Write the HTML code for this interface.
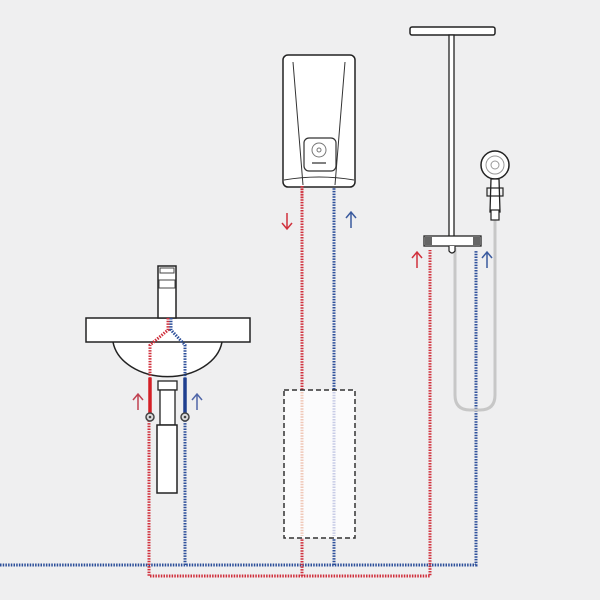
<!DOCTYPE html>
<html><head><style>body{margin:0;background:#efeff0}svg{display:block}</style></head><body>
<svg width="600" height="600" viewBox="0 0 600 600" xmlns="http://www.w3.org/2000/svg">
<rect width="600" height="600" fill="#efeff0"/>
<g fill="none" stroke-width="3" stroke-dasharray="1.5 1.2">
<!-- blue -->
<path d="M0 565 H476 V250" stroke="#2c4f9a"/>
<path d="M185 565 V415" stroke="#2c4f9a"/>
<path d="M334 565 V186" stroke="#2c4f9a"/>
<!-- red -->
<path d="M149 415 V576 H430 V250" stroke="#d0303c"/>
<path d="M302 576 V186" stroke="#d0303c"/>
</g>
<!-- dashed box -->
<rect x="284" y="390" width="71" height="148" fill="#fbfbfc" stroke="#333" stroke-width="1.5" stroke-dasharray="5 3"/>
<g stroke-width="3" stroke-dasharray="1.5 1.2"><line x1="302" y1="392" x2="302" y2="536" stroke="#f0c8b8"/><line x1="334" y1="392" x2="334" y2="536" stroke="#c8cce6"/></g>
<!-- heater -->
<rect x="283" y="55" width="72" height="132" rx="5" fill="#fff" stroke="#222" stroke-width="1.5"/>
<path d="M293 62 L303 185 M345 62 L335 185" stroke="#333" stroke-width="1" fill="none"/>
<path d="M284 180 Q319 174 354 180" stroke="#333" stroke-width="1" fill="none"/>
<rect x="304" y="138" width="32" height="33" rx="5" fill="#fff" stroke="#333" stroke-width="1.2"/>
<circle cx="319" cy="150" r="7" fill="none" stroke="#777" stroke-width="1"/>
<circle cx="319" cy="150" r="2" fill="none" stroke="#777" stroke-width="1"/>
<line x1="312" y1="163" x2="326" y2="163" stroke="#555" stroke-width="1.5"/>
<g stroke-width="3" stroke-dasharray="1.5 1.2"><line x1="302" y1="186" x2="302" y2="200" stroke="#d0303c"/></g>
<!-- shower -->
<rect x="410" y="27" width="85" height="8" rx="2" fill="#fff" stroke="#222" stroke-width="1.5"/>
<rect x="449" y="35" width="5" height="202" fill="#fff" stroke="#222" stroke-width="1.3"/>
<path d="M495 220 V395 Q495 410 480 410 H470 Q455 410 455 395 V248" fill="none" stroke="#c7c7c7" stroke-width="3"/>
<rect x="424" y="236" width="57" height="10" fill="#fff" stroke="#222" stroke-width="1.3"/>
<rect x="425" y="237" width="7" height="8" fill="#666"/><rect x="473" y="237" width="7" height="8" fill="#666"/>
<path d="M449 246 v5 q3 4 6 0 v-5" fill="#fff" stroke="#222" stroke-width="1.2"/>
<circle cx="495" cy="165" r="14" fill="#fff" stroke="#222" stroke-width="1.5"/>
<circle cx="495" cy="165" r="9" fill="none" stroke="#999" stroke-width="1"/>
<circle cx="495" cy="165" r="4" fill="none" stroke="#999" stroke-width="1"/>
<path d="M491 179 L490 212 H500 L499 179 Z" fill="#fff" stroke="#222" stroke-width="1.3"/>
<rect x="487" y="188" width="16" height="8" fill="none" stroke="#222" stroke-width="1.2"/>
<rect x="491" y="210" width="8" height="10" fill="#fff" stroke="#222" stroke-width="1.2"/>
<!-- sink -->
<path d="M113 342 A55 40 0 0 0 222 342" fill="#fff" stroke="#222" stroke-width="1.5"/>
<rect x="86" y="318" width="164" height="24" fill="#fff" stroke="#222" stroke-width="1.5"/>
<rect x="158" y="266" width="18" height="52" fill="#fff" stroke="#222" stroke-width="1.5"/>
<rect x="159" y="280" width="16" height="8" fill="none" stroke="#444" stroke-width="1"/>
<rect x="160" y="268" width="14" height="5" fill="none" stroke="#444" stroke-width="1"/>
<rect x="158" y="381" width="19" height="9" fill="#fff" stroke="#222" stroke-width="1.3"/>
<rect x="160" y="390" width="15" height="35" fill="#fff" stroke="#222" stroke-width="1.3"/>
<rect x="157" y="425" width="20" height="68" fill="#fff" stroke="#222" stroke-width="1.5"/>
<g fill="none" stroke-width="3" stroke-dasharray="1.5 1.2">
<path d="M168 318 V330 L150 345 V378" stroke="#d0303c"/>
<path d="M171 318 V330 L185 345 V378" stroke="#2c4f9a"/>
</g>
<line x1="150" y1="378" x2="150" y2="415" stroke="#d41f26" stroke-width="3.5"/>
<line x1="185" y1="378" x2="185" y2="415" stroke="#1f3f8f" stroke-width="3.5"/>
<circle cx="150" cy="417" r="4" fill="#ddd" stroke="#444" stroke-width="1.5"/><circle cx="150" cy="417" r="1.3" fill="#444"/>
<circle cx="185" cy="417" r="4" fill="#ddd" stroke="#444" stroke-width="1.5"/><circle cx="185" cy="417" r="1.3" fill="#444"/>
<!-- arrows -->
<g fill="none" stroke-width="1.5">
<path d="M138 410 V395 M133 400 L138 394 L143 400" stroke="#c04050"/>
<path d="M197 410 V395 M192 400 L197 394 L202 400" stroke="#5066a8"/>
<path d="M287 213 V228 M282 223 L287 229 L292 223" stroke="#d0303c"/>
<path d="M351 228 V213 M346 218 L351 212 L356 218" stroke="#3a5a9e"/>
<path d="M417 268 V253 M412 258 L417 252 L422 258" stroke="#d0303c"/>
<path d="M487 268 V253 M482 258 L487 252 L492 258" stroke="#3a5a9e"/>
</g>
</svg>
</body></html>
